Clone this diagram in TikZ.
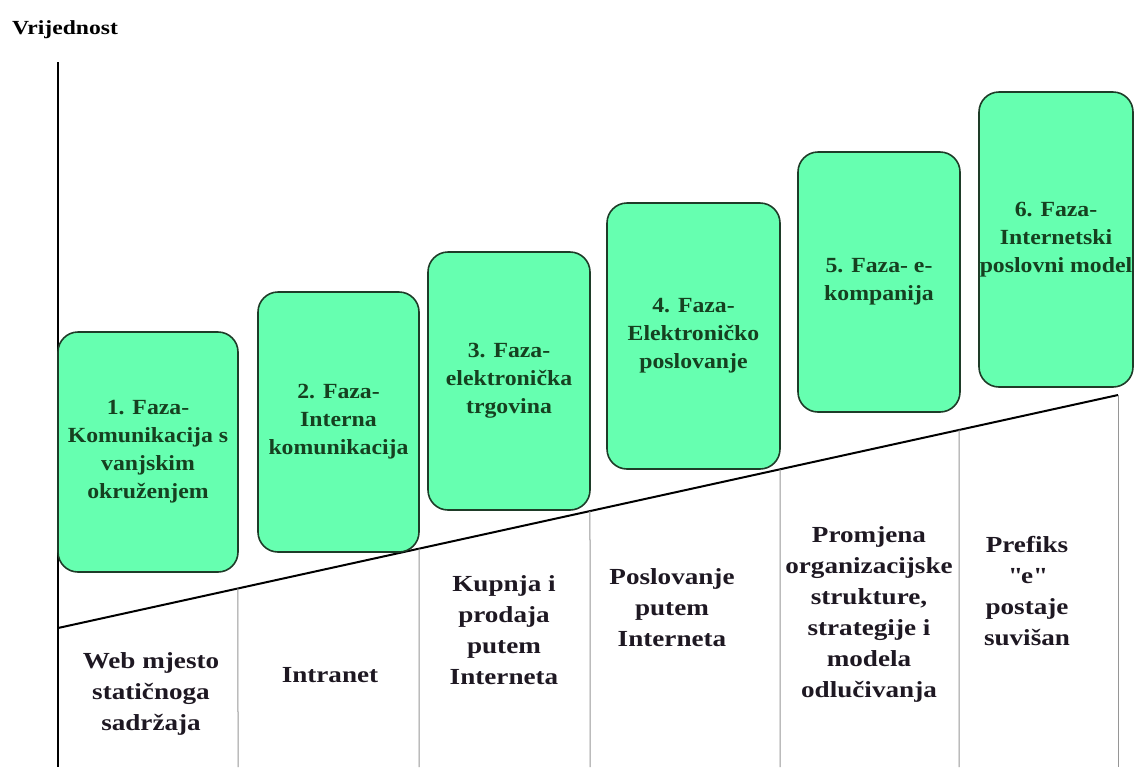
\documentclass[tikz,border=0pt]{standalone}
\usepackage{fontspec}
\setmainfont{Liberation Serif}[FakeStretch=1.18]
\newfontfamily\phasefont{Liberation Serif}[FakeStretch=1.1]
\usetikzlibrary{calc}

\definecolor{phasefill}{RGB}{102,255,176}
\definecolor{phaseline}{RGB}{30,60,40}
\definecolor{phasetext}{RGB}{22,64,32}
\definecolor{stagetext}{RGB}{30,24,34}
\definecolor{gridgray}{RGB}{150,150,150}

\begin{document}
\begin{tikzpicture}[x=0.5pt, y=-0.5pt,
    phase/.style={rectangle, draw=phaseline, line width=0.8pt, fill=phasefill, rounded corners=10pt, align=center, text=phasetext, font=\phasefont\bfseries\fontsize{10.8}{14}\selectfont, inner sep=0pt},
    stage/.style={align=center, text=stagetext, font=\bfseries\fontsize{11.5}{15.5}\selectfont},
    divider/.style={draw=gridgray, line width=0.5pt},
    axis/.style={line width=1pt, black}
]
    \clip (0,0) rectangle (1134,767);

    % Axis
    \node[font=\bfseries\fontsize{10}{12}\selectfont] (ylabel) at (65,30) {Vrijednost};
    \coordinate (axtop) at (58,62);
    \coordinate (axbot) at (58,767);
    \draw[axis] (axtop) -- (axbot);

    % Rising line and columns
    \coordinate (rlo) at (58,628);
    \coordinate (rhi) at (1118,395);
    \draw[axis] (rlo) -- (rhi);
    \foreach \x in {238,419,590,780,959,1118}
        \draw[divider] ($(rlo)!{(\x-58)/1060}!(rhi)$) -- (\x,767);

    % Phases
    \node[phase, minimum width=90pt, minimum height=120pt] (ph1) at (148,452) {1. Faza-\\Komunikacija s\\vanjskim\\okruženjem};
    \node[phase, minimum width=80.5pt, minimum height=130pt] (ph2) at (338.5,422) {2. Faza-\\Interna\\komunikacija};
    \node[phase, minimum width=81pt, minimum height=129pt] (ph3) at (509,381) {3. Faza-\\elektronička\\trgovina};
    \node[phase, minimum width=86.5pt, minimum height=133pt] (ph4) at (693.5,336) {4. Faza-\\Elektroničko\\poslovanje};
    \node[phase, minimum width=81pt, minimum height=130pt] (ph5) at (879,282) {5. Faza- e-\\kompanija};
    \node[phase, minimum width=77pt, minimum height=147.5pt] (ph6) at (1056,239.5) {6. Faza-\\Internetski\\poslovni model};

    % Stages
    \node[stage] (st1) at (151,694) {Web mjesto\\statičnoga\\sadržaja};
    \node[stage] (st2) at (330,675) {Intranet};
    \node[stage] (st3) at (504,630) {Kupnja i\\prodaja\\putem\\Interneta};
    \node[stage] (st4) at (672,608) {Poslovanje\\putem\\Interneta};
    \node[stage] (st5) at (869,614) {Promjena\\organizacijske\\strukture,\\strategije i\\modela\\odlučivanja};
    \node[stage] (st6) at (1027,591) {Prefiks\\\textquotedbl e\textquotedbl\\postaje\\suvišan};
\end{tikzpicture}
\end{document}
